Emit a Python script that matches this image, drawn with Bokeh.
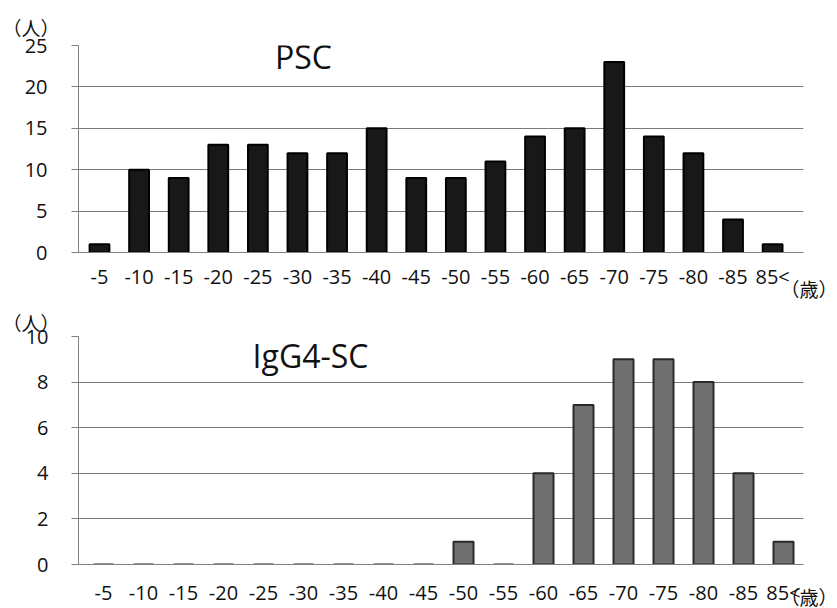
from bokeh.plotting import figure
from bokeh.layouts import column
from bokeh.models import Range1d, FixedTicker, Label, ColumnDataSource, Title
from bokeh.embed import file_html
from bokeh.resources import INLINE

categories = ["-5", "-10", "-15", "-20", "-25", "-30", "-35", "-40", "-45",
              "-50", "-55", "-60", "-65", "-70", "-75", "-80", "-85", "85<"]
psc_counts = [1, 10, 9, 13, 13, 12, 12, 15, 9, 9, 11, 14, 15, 23, 14, 12, 4, 1]
igg4_counts = [0, 0, 0, 0, 0, 0, 0, 0, 0, 1, 0, 4, 7, 9, 9, 8, 4, 1]
psc_yticks = [0, 5, 10, 15, 20, 25]
igg4_yticks = [0, 2, 4, 6, 8, 10]
unit_people = "（人）"
unit_age = "（歳）"

FONT = "Open Sans"
CJK = "Noto Sans CJK JP"
LEFT, RIGHT = 78, 34


def unit_title(text, align, offset, standoff, valign):
    return Title(text=text, align=align, offset=offset, standoff=standoff,
                 vertical_align=valign, text_font=CJK, text_font_size="19px",
                 text_font_style="normal", text_color="#111111")


def panel(counts, title, yticks, xr, height, top, bottom, fill, line,
          title_pos, label_standoff, y_standoff):
    p = figure(width=837, height=height, output_backend="svg",
               toolbar_location=None,
               x_range=Range1d(*xr), y_range=Range1d(yticks[0], yticks[-1]),
               min_border_left=LEFT, min_border_right=RIGHT,
               min_border_top=top, min_border_bottom=bottom)
    p.outline_line_color = None
    p.background_fill_color = "white"
    p.border_fill_color = "white"

    idx = list(range(len(categories)))
    src = ColumnDataSource(dict(x=idx, top=counts, cat=categories))
    p.vbar(x="x", top="top", bottom=0, width=0.5, source=src,
           fill_color=fill, line_color=line, line_width=2)

    p.xaxis.ticker = FixedTicker(ticks=idx)
    p.xaxis.major_label_overrides = {i: c for i, c in enumerate(categories)}
    p.xaxis.major_tick_line_color = None
    p.xaxis.minor_tick_line_color = None
    p.xaxis.axis_line_color = "#808080"
    p.xaxis.major_label_text_font = FONT
    p.xaxis.major_label_text_font_size = "20px"
    p.xaxis.major_label_text_color = "#111111"
    p.xaxis.major_label_standoff = label_standoff

    p.yaxis.ticker = FixedTicker(ticks=yticks)
    p.yaxis.minor_tick_line_color = None
    p.yaxis.major_tick_in = 0
    p.yaxis.major_tick_out = 7
    p.yaxis.major_tick_line_color = "#808080"
    p.yaxis.axis_line_color = "#808080"
    p.yaxis.major_label_text_font = FONT
    p.yaxis.major_label_text_font_size = "20px"
    p.yaxis.major_label_text_color = "#111111"
    p.yaxis.major_label_standoff = y_standoff

    p.xgrid.grid_line_color = None
    p.ygrid.grid_line_color = "#7a7a7a"
    p.ygrid.grid_line_width = 1

    p.add_layout(Label(x=title_pos[0], y=title_pos[1], text=title,
                       text_font=FONT, text_font_size="32px",
                       text_align="center", text_baseline="alphabetic",
                       text_color="#111111"))
    return p


p1 = panel(psc_counts, "PSC", psc_yticks, (-0.53, 17.78), 302, 45, 50,
           "#181818", "#000000", (5.15, 23.7), 4, 24)
p2 = panel(igg4_counts, "IgG4-SC", igg4_yticks, (-0.625, 17.5), 306, 34, 44,
           "#707070", "#2a2a2a", (5.175, 9.16), 8, 23)

p1.add_layout(unit_title(unit_people, "left", -76, 10, "bottom"), "above")
p1.add_layout(unit_title(unit_age, "right", -34, -36, "top"), "below")
p2.add_layout(unit_title(unit_people, "left", -76, 2, "bottom"), "above")
p2.add_layout(unit_title(unit_age, "right", -34, -52, "top"), "below")

layout = column(p1, p2, spacing=0)
open("out.html", "w").write(file_html(layout, INLINE))
